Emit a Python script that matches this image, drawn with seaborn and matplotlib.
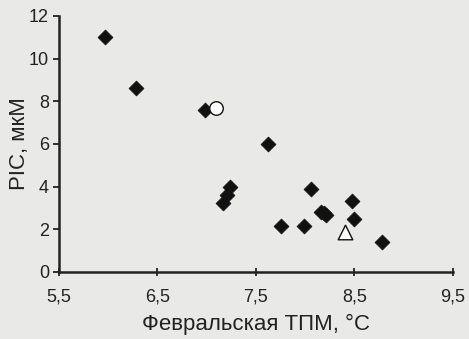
import matplotlib
matplotlib.use("Agg")
import matplotlib.pyplot as plt
import seaborn as sns
import pandas as pd

# Data
diamond_x = [5.97, 6.28, 6.98, 7.62, 7.24, 7.21, 7.17, 8.06, 8.48, 8.16, 8.21, 8.19, 7.76, 7.99, 8.50, 8.78]
diamond_y = [11.0, 8.6, 7.6, 6.0, 4.0, 3.6, 3.25, 3.9, 3.3, 2.8, 2.65, 2.75, 2.15, 2.15, 2.5, 1.4]
circle_x = [7.10]
circle_y = [7.7]
triangle_x = [8.40]
triangle_y = [1.85]

x_ticks = [5.5, 6.5, 7.5, 8.5, 9.5]
x_tick_labels = ["5,5", "6,5", "7,5", "8,5", "9,5"]
y_ticks = [0, 2, 4, 6, 8, 10, 12]
y_tick_labels = ["0", "2", "4", "6", "8", "10", "12"]

sns.set_style("ticks")
plt.rcParams["font.family"] = ["Liberation Sans", "DejaVu Sans"]

bg = "#e9e9e7"
fig = plt.figure(figsize=(4.69, 3.39), dpi=100, facecolor=bg)
ax = fig.add_axes([0.125, 0.198, 0.841, 0.755])
ax.set_facecolor(bg)

df_d = pd.DataFrame({"x": diamond_x, "y": diamond_y})
df_c = pd.DataFrame({"x": circle_x, "y": circle_y})
df_t = pd.DataFrame({"x": triangle_x, "y": triangle_y})

sns.scatterplot(data=df_d, x="x", y="y", marker="D", s=58, color="#111111",
                edgecolor="#111111", linewidth=0.5, ax=ax, zorder=3)
sns.scatterplot(data=df_c, x="x", y="y", marker="o", s=95, facecolor="white",
                edgecolor="#111111", linewidth=1.0, ax=ax, zorder=4)
sns.scatterplot(data=df_t, x="x", y="y", marker="^", s=110, facecolor="white",
                edgecolor="#111111", linewidth=1.0, ax=ax, zorder=4)

ax.set_xlim(5.5, 9.5)
ax.set_ylim(0, 12)
ax.set_xticks(x_ticks)
ax.set_xticklabels(x_tick_labels)
ax.set_yticks(y_ticks)
ax.set_yticklabels(y_tick_labels)
ax.tick_params(axis="both", labelsize=13, colors="#222222", width=1.3, length=4, pad=3)
ax.tick_params(axis="x", direction="inout", length=6, pad=9)
for side in ["top", "right"]:
    ax.spines[side].set_visible(False)
for side in ["left", "bottom"]:
    ax.spines[side].set_linewidth(1.8)
    ax.spines[side].set_color("#222222")

ax.set_xlabel("Февральская ТПМ, °С", fontsize=16, color="#222222", labelpad=6)
ax.set_ylabel("PIC, мкМ", fontsize=16, color="#222222", labelpad=-1)

fig.savefig("out.png", dpi=100, facecolor=bg)
